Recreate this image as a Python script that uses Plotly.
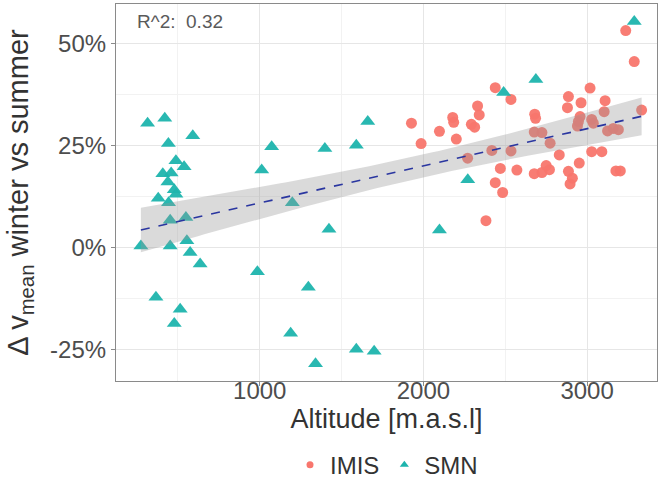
import numpy as np
import plotly.graph_objects as go

# ---- data ----
smn_alt = [315, 420, 442, 591, 488, 538, 408, 459, 439, 478, 488, 380, 443, 453, 549,
           274, 453, 555, 575, 636, 366, 514, 478, 1073, 1012, 1398, 1590, 1660, 1199,
           1423, 986, 1297, 1189, 1590, 1341, 1699, 2098, 2271, 2490, 2687, 3288]
smn_val = [30.6, 31.8, 25.6, 27.5, 21.4, 19.9, 18.2, 18.4, 16.2, 14.3, 13.2, 12.2, 11.1, 6.8, 7.5,
           0.5, 0.5, 1.8, -1.1, -3.9, -12.1, -15.0, -18.5, 24.8, 19.1, 24.4, 25.2, 31.0, 11.1,
           4.6, -5.8, -9.6, -20.9, -24.8, -28.4, -25.3, 4.4, 16.7, 38.1, 41.3, 55.5]

imis_alt = [3236, 3288, 3333, 2439, 2535, 2331, 2341, 2179, 2185, 1927, 2293, 2313, 2098, 2201,
            1986, 2418, 2535, 2270, 2680, 2685, 2677, 2724, 2774, 2830, 2886, 2880, 3018, 2963,
            3110, 3104, 2957, 2947, 3028, 3038, 2941, 3125, 3160, 3191, 3028, 3090, 2952, 3176,
            3203, 2886, 2910, 2896, 2750, 2770, 2724, 2677, 2571, 2470, 2439, 2484, 2382]
imis_val = [53.3, 45.7, 33.8, 39.3, 36.4, 34.8, 32.6, 32.0, 30.8, 30.6, 30.3, 29.6, 28.6, 26.7,
            25.6, 23.9, 23.8, 22.0, 32.8, 31.8, 28.4, 28.3, 25.7, 22.8, 37.1, 34.4, 39.2, 35.6,
            36.1, 33.4, 32.2, 31.0, 31.5, 30.6, 29.9, 28.7, 29.3, 29.0, 23.6, 23.6, 20.8, 18.9,
            18.9, 18.8, 17.1, 15.7, 20.2, 19.2, 18.5, 18.2, 19.1, 19.5, 16.0, 13.6, 6.7]

y_tickvals = [-25, 0, 25, 50]
y_ticktext = ["-25%", "0%", "25%", "50%"]
x_tickvals = [1000, 2000, 3000]
r2_label = "R^2:  0.32"

# ---- linear fit with 95% confidence band ----
xa = np.array(smn_alt + imis_alt, dtype=float)
ya = np.array(smn_val + imis_val, dtype=float)
n = len(xa)
b1, b0 = np.polyfit(xa, ya, 1)
resid = ya - (b0 + b1 * xa)
s = np.sqrt(np.sum(resid ** 2) / (n - 2))
xm = xa.mean()
sxx = np.sum((xa - xm) ** 2)
xf = np.linspace(xa.min(), xa.max(), 80)
yf = b0 + b1 * xf
se = s * np.sqrt(1.0 / n + (xf - xm) ** 2 / sxx)
tval = 1.985
lo = yf - tval * se
hi = yf + tval * se

RED = "#F8766D"
TEAL = "#1DB4AD"
FONT = "Liberation Sans, Arial"

fig = go.Figure()
fig.add_trace(go.Scatter(x=imis_alt, y=imis_val, mode="markers", name="IMIS", showlegend=False,
                         marker=dict(symbol="circle", size=11, color=RED, opacity=0.95)))
fig.add_trace(go.Scatter(x=smn_alt, y=smn_val, mode="markers", name="SMN", showlegend=False,
                         marker=dict(symbol="triangle-up", size=13, color=TEAL, opacity=0.95)))
fig.add_trace(go.Scatter(x=np.concatenate([xf, xf[::-1]]), y=np.concatenate([hi, lo[::-1]]),
                         fill="toself", fillcolor="rgba(150,150,150,0.35)",
                         line=dict(width=0), mode="lines", showlegend=False, hoverinfo="skip"))
fig.add_trace(go.Scatter(x=xf, y=yf, mode="lines", showlegend=False,
                         line=dict(color="#2A36A0", width=1.6, dash="dash")))
# legend entries (small keys as in the reference)
fig.add_trace(go.Scatter(x=[None], y=[None], mode="markers", name="IMIS",
                         marker=dict(symbol="circle", size=7, color=RED)))
fig.add_trace(go.Scatter(x=[None], y=[None], mode="markers", name="SMN",
                         marker=dict(symbol="triangle-up", size=8, color=TEAL)))

fig.add_annotation(x=240, y=55.5, xref="x", yref="y", text=r2_label, showarrow=False,
                   xanchor="left", yanchor="middle",
                   font=dict(family=FONT, size=19, color="#5a5a5a"))

axis_common = dict(showline=True, linecolor="#8a8a8a", linewidth=1.2, mirror=True,
                   showgrid=True, gridcolor="#e6e6e6", gridwidth=1, zeroline=False,
                   ticks="outside", ticklen=4, tickcolor="#8a8a8a",
                   tickfont=dict(family=FONT, size=24, color="#4d4d4d"))

fig.update_xaxes(range=[122, 3427], tickvals=x_tickvals, ticklabelstandoff=-16,
                 minor=dict(dtick=500, tick0=0, showgrid=True, gridcolor="#f2f2f2", ticks=""),
                 title=dict(text="Altitude [m.a.s.l]", standoff=4,
                            font=dict(family=FONT, size=27, color="#333333")),
                 **axis_common)
fig.update_yaxes(range=[-32.6, 59.8], tickvals=y_tickvals, ticktext=y_ticktext,
                 minor=dict(dtick=12.5, tick0=12.5, showgrid=True, gridcolor="#f2f2f2", ticks=""),
                 title=dict(text="Δ v<sub>mean</sub> winter vs summer", standoff=12,
                            font=dict(family=FONT, size=29, color="#333333")),
                 **axis_common)

fig.update_layout(width=661, height=484, margin=dict(l=116, r=4, t=4, b=103, autoexpand=False),
                  plot_bgcolor="white", paper_bgcolor="white",
                  legend=dict(orientation="h", x=0.5, xanchor="center", y=-0.223, yanchor="middle",
                              font=dict(family=FONT, size=24, color="#333333"),
                              itemsizing="trace", traceorder="normal", itemwidth=30),
                  showlegend=True)

fig.write_html("out.html")
